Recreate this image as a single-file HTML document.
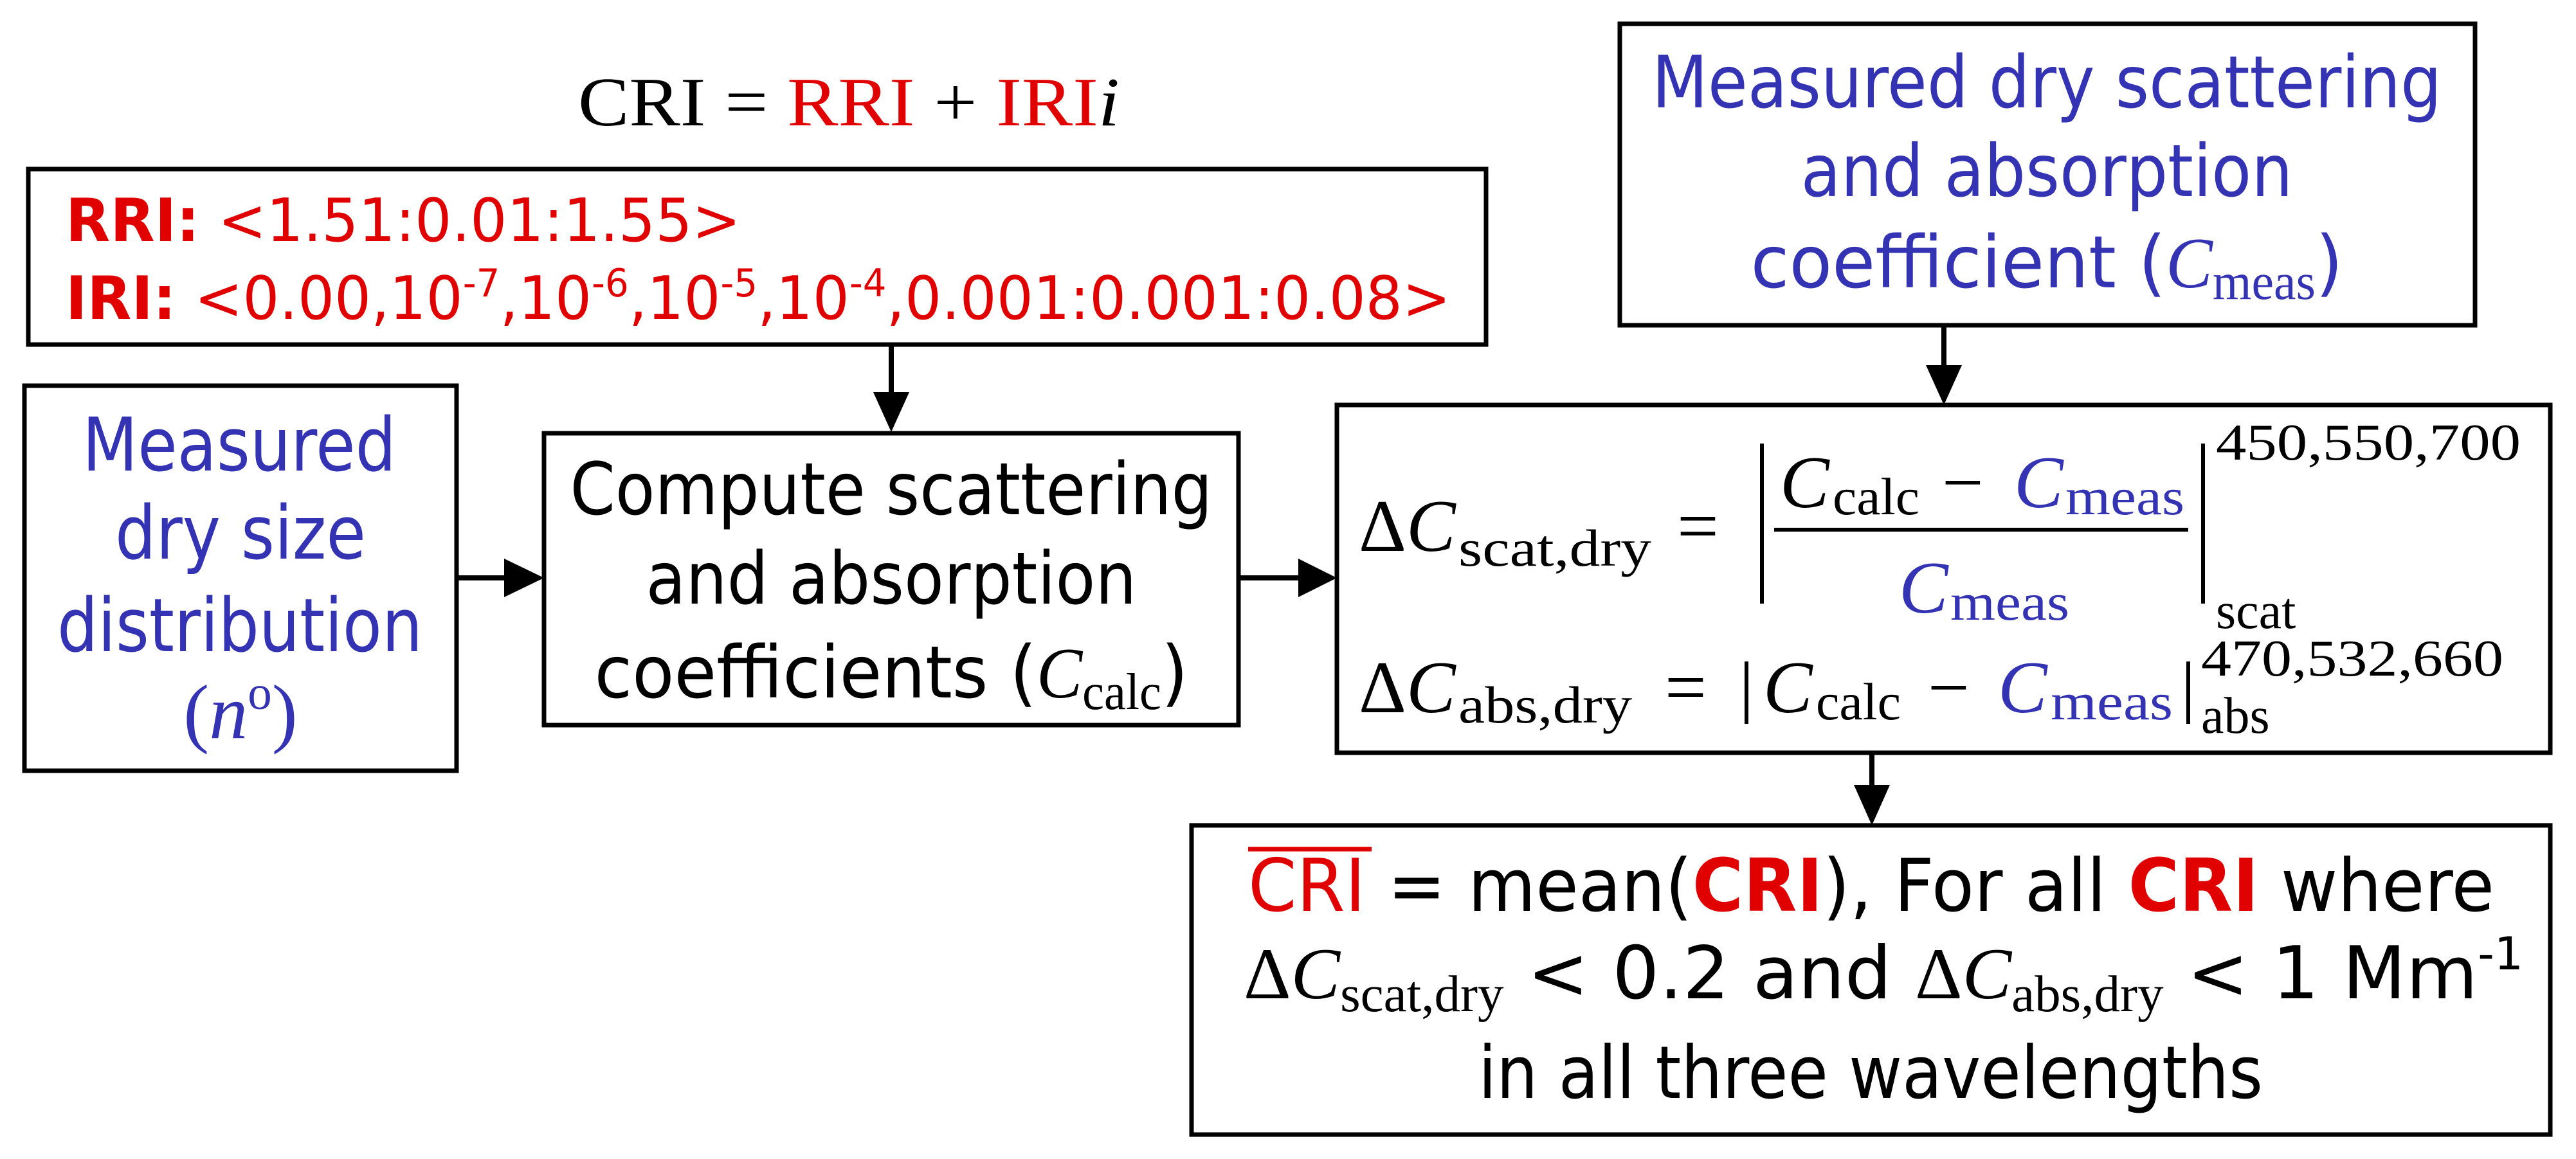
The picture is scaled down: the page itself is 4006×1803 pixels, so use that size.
<!DOCTYPE html>
<html><head><meta charset="utf-8"><style>
html,body{margin:0;padding:0;background:#fff;}
svg{display:block;}
.s{font-family:"DejaVu Sans","Liberation Sans",sans-serif;}
.m{font-family:"Liberation Serif","DejaVu Serif",serif;}
.b{fill:#3333b3;}
.r{fill:#e00000;}
</style></head><body>
<svg width="4006" height="1803" viewBox="0 0 4006 1803" xmlns="http://www.w3.org/2000/svg">
<rect width="4006" height="1803" fill="#fff"/>
<g fill="none" stroke="#000" stroke-width="7">
<rect x="44" y="263" width="2267" height="273"/>
<rect x="2519" y="37" width="1330" height="469"/>
<rect x="38" y="600" width="672" height="599"/>
<rect x="846" y="674" width="1080" height="454"/>
<rect x="2079" y="630" width="1887" height="541"/>
<rect x="1853" y="1284" width="2113" height="481"/>
</g>
<g stroke="#000" stroke-width="8">
<line x1="1386" y1="536" x2="1386" y2="615"/>
<line x1="710" y1="899" x2="790" y2="899"/>
<line x1="1926" y1="899" x2="2024" y2="899"/>
<line x1="3023" y1="506" x2="3023" y2="573"/>
<line x1="2911" y1="1171" x2="2911" y2="1226"/>
</g>
<g fill="#000">
<polygon points="1358,610 1414,610 1386,672"/>
<polygon points="784,869 784,929 846,899"/>
<polygon points="2019,869 2019,929 2079,899"/>
<polygon points="2995,568 3051,568 3023,630"/>
<polygon points="2883,1221 2939,1221 2911,1284"/>
</g>
<text class="m" x="899" y="195" font-size="108" textLength="842" lengthAdjust="spacingAndGlyphs">CRI = <tspan class="r">RRI</tspan> + <tspan class="r">IRI</tspan><tspan font-style="italic">i</tspan></text>
<text class="s r" x="102" y="375" font-size="93" textLength="1050" lengthAdjust="spacingAndGlyphs"><tspan font-weight="bold">RRI:</tspan> &lt;1.51:0.01:1.55&gt;</text>
<text class="s r" x="102" y="496" font-size="93" textLength="2154" lengthAdjust="spacingAndGlyphs"><tspan font-weight="bold">IRI:</tspan> &lt;0.00,10<tspan font-size="60" dy="-35">-7</tspan><tspan dy="35">,10</tspan><tspan font-size="60" dy="-35">-6</tspan><tspan dy="35">,10</tspan><tspan font-size="60" dy="-35">-5</tspan><tspan dy="35">,10</tspan><tspan font-size="60" dy="-35">-4</tspan><tspan dy="35">,0.001:0.001:0.08&gt;</tspan></text>
<g class="s b" font-size="115" text-anchor="middle">
<text x="372" y="732" textLength="488" lengthAdjust="spacingAndGlyphs">Measured</text>
<text x="374" y="869" textLength="390" lengthAdjust="spacingAndGlyphs">dry size</text>
<text x="373" y="1013" textLength="568" lengthAdjust="spacingAndGlyphs">distribution</text>
<text x="374" y="1148" class="m b" font-size="120">(<tspan font-style="italic">n</tspan><tspan font-size="75" dy="-45">o</tspan><tspan dy="45">)</tspan></text>
</g>
<g class="s" font-size="112" text-anchor="middle">
<text x="1386" y="800" textLength="999" lengthAdjust="spacingAndGlyphs">Compute scattering</text>
<text x="1386" y="939" textLength="763" lengthAdjust="spacingAndGlyphs">and absorption</text>
<text x="1386" y="1085" textLength="923" lengthAdjust="spacingAndGlyphs">coefficients (<tspan class="m" font-style="italic">C</tspan><tspan class="m" font-size="80" dy="18">calc</tspan><tspan dy="-18">)</tspan></text>
</g>
<g class="s b" font-size="112" text-anchor="middle">
<text x="3183" y="167" textLength="1228" lengthAdjust="spacingAndGlyphs">Measured dry scattering</text>
<text x="3183" y="305" textLength="765" lengthAdjust="spacingAndGlyphs">and absorption</text>
<text x="3183" y="447" textLength="921" lengthAdjust="spacingAndGlyphs">coefficient (<tspan class="m" font-style="italic">C</tspan><tspan class="m" font-size="80" dy="18">meas</tspan><tspan dy="-18">)</tspan></text>
</g>
<g class="m" fill="#000">
<text x="2113" y="857" font-size="115">Δ<tspan font-style="italic">C</tspan></text>
<text x="2268" y="880" font-size="82" textLength="300" lengthAdjust="spacingAndGlyphs">scat,dry</text>
<text x="2608" y="857" font-size="115">=</text>
<text x="2768" y="789" font-size="115" font-style="italic">C</text>
<text x="2850" y="800" font-size="82" textLength="135" lengthAdjust="spacingAndGlyphs">calc</text>
<text x="3020" y="789" font-size="115">−</text>
<text x="3132" y="789" font-size="115" font-style="italic" class="b">C</text>
<text x="3212" y="800" font-size="82" class="b" textLength="185" lengthAdjust="spacingAndGlyphs">meas</text>
<text x="2953" y="953" font-size="115" font-style="italic" class="b">C</text>
<text x="3033" y="964" font-size="82" class="b" textLength="185" lengthAdjust="spacingAndGlyphs">meas</text>
<text x="3446" y="715" font-size="80" textLength="474" lengthAdjust="spacingAndGlyphs">450,550,700</text>
<text x="3446" y="977" font-size="80">scat</text>
<text x="2113" y="1108" font-size="115">Δ<tspan font-style="italic">C</tspan></text>
<text x="2268" y="1124" font-size="82" textLength="270" lengthAdjust="spacingAndGlyphs">abs,dry</text>
<text x="2589" y="1108" font-size="115">=</text>
<text x="2742" y="1108" font-size="115" font-style="italic">C</text>
<text x="2824" y="1119" font-size="82" textLength="132" lengthAdjust="spacingAndGlyphs">calc</text>
<text x="2998" y="1108" font-size="115">−</text>
<text x="3107" y="1108" font-size="115" font-style="italic" class="b">C</text>
<text x="3189" y="1119" font-size="82" class="b" textLength="190" lengthAdjust="spacingAndGlyphs">meas</text>
<text x="3423" y="1051" font-size="80" textLength="470" lengthAdjust="spacingAndGlyphs">470,532,660</text>
<text x="3423" y="1140" font-size="80">abs</text>
</g>
<g stroke="#000" stroke-width="6">
<line x1="2740" y1="690" x2="2740" y2="939"/>
<line x1="3426" y1="690" x2="3426" y2="939"/>
<line x1="2759" y1="824" x2="3403" y2="824"/>
<line x1="2716" y1="1029" x2="2716" y2="1126"/>
<line x1="3403" y1="1029" x2="3403" y2="1126"/>
</g>
<line x1="1941" y1="1321" x2="2133" y2="1321" stroke="#e00000" stroke-width="7"/>
<text class="s" x="1941" y="1417" font-size="113" textLength="1938" lengthAdjust="spacingAndGlyphs"><tspan class="r">CRI</tspan> = mean(<tspan class="r" font-weight="bold">CRI</tspan>), For all <tspan class="r" font-weight="bold">CRI</tspan> where</text>
<text class="s" x="1934" y="1553" font-size="113" textLength="1990" lengthAdjust="spacingAndGlyphs"><tspan class="m">Δ</tspan><tspan class="m" font-style="italic">C</tspan><tspan class="m" font-size="80" dy="20">scat,dry</tspan><tspan dy="-20"> &lt; 0.2 and </tspan><tspan class="m">Δ</tspan><tspan class="m" font-style="italic">C</tspan><tspan class="m" font-size="80" dy="20">abs,dry</tspan><tspan dy="-20"> &lt; 1 Mm</tspan><tspan font-size="70" dy="-45">-1</tspan></text>
<text class="s" x="2299" y="1708" font-size="113" textLength="1220" lengthAdjust="spacingAndGlyphs">in all three wavelengths</text>
</svg>
</body></html>
